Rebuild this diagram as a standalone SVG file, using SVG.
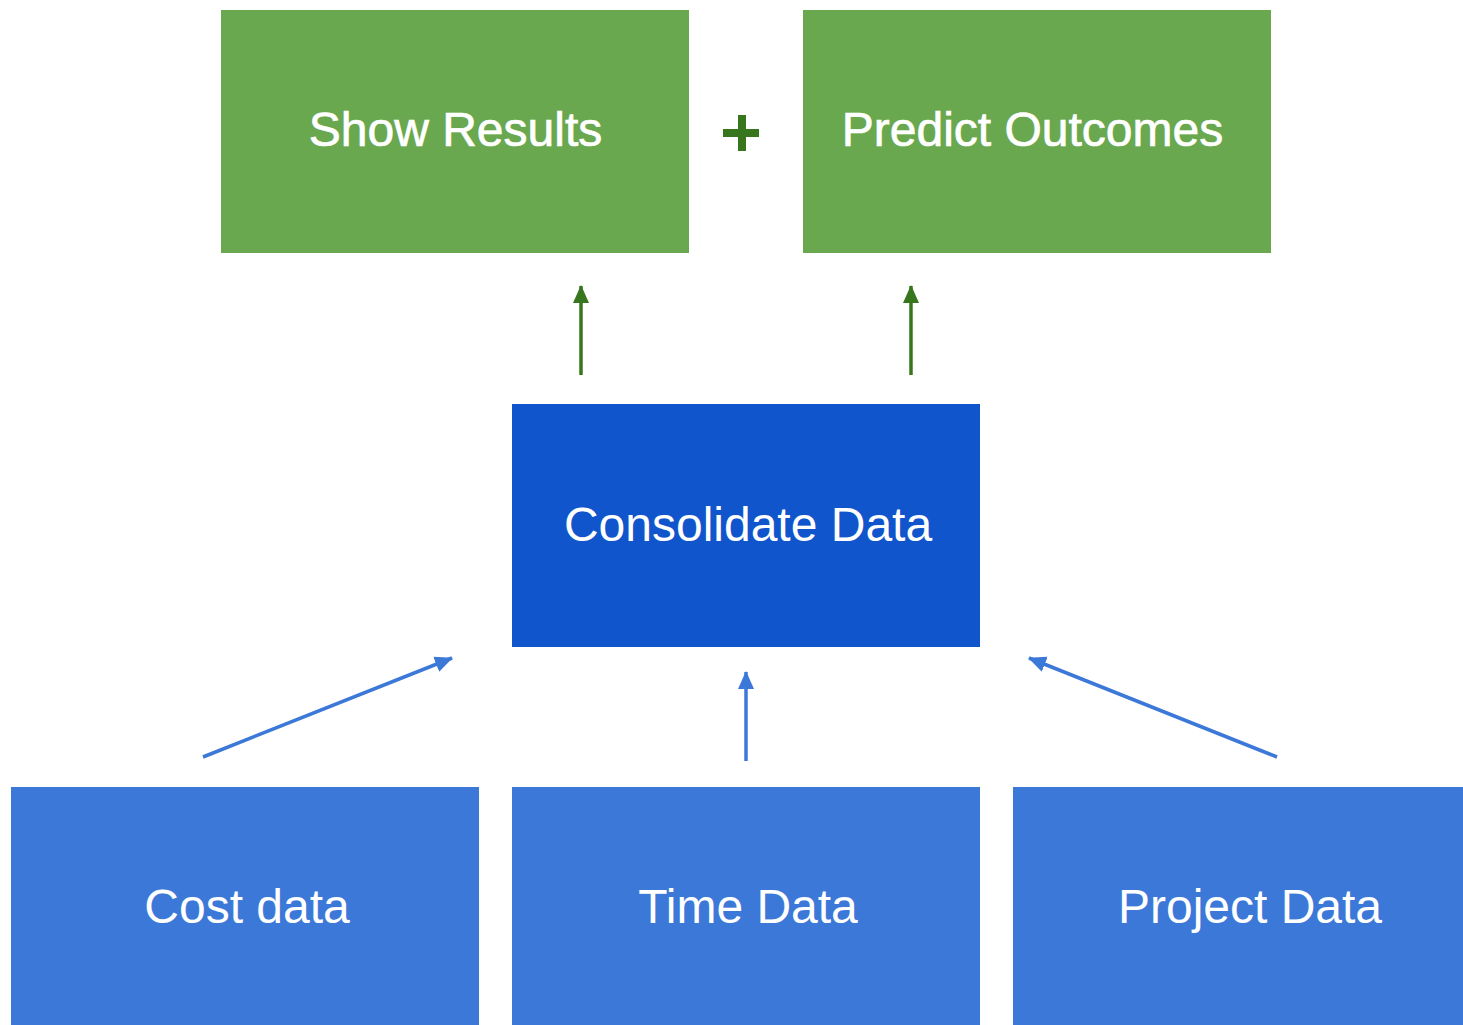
<svg xmlns="http://www.w3.org/2000/svg" width="1463" height="1025" viewBox="0 0 1463 1025">
  <style>
    .green { fill: #6aa84f; }
    .navy { fill: #1155cc; }
    .blue { fill: #3c78d8; }
    .label { font-family: "Liberation Sans", Arial, sans-serif; font-size: 48px; fill: #ffffff; text-anchor: middle; }
    .heavy { stroke: #ffffff; stroke-width: 0.7; }
    .up-green { stroke: #38761d; stroke-width: 3.5; fill: none; }
    .up-blue { stroke: #3c78d8; stroke-width: 3.5; fill: none; }
  </style>
  <defs>
    <marker id="headGreen" markerUnits="userSpaceOnUse" markerWidth="18" markerHeight="18" viewBox="0 0 18 18" refX="17" refY="9" orient="auto">
      <path d="M0,1 L18,9 L0,17 Z" fill="#38761d"/>
    </marker>
    <marker id="headBlue" markerUnits="userSpaceOnUse" markerWidth="18" markerHeight="18" viewBox="0 0 18 18" refX="17" refY="9" orient="auto">
      <path d="M0,1 L18,9 L0,17 Z" fill="#3c78d8"/>
    </marker>
  </defs>

  <rect width="1463" height="1025" fill="#ffffff"/>

  <g id="show-results">
    <rect class="green" x="221" y="10" width="468" height="243"/>
    <text class="label heavy" x="455.5" y="146">Show Results</text>
  </g>

  <g id="plus">
    <rect x="738" y="115" width="8" height="36" fill="#38761d"/>
    <rect x="723" y="129" width="36" height="8" fill="#38761d"/>
  </g>

  <g id="predict-outcomes">
    <rect class="green" x="803" y="10" width="468" height="243"/>
    <text class="label heavy" x="1032.5" y="146">Predict Outcomes</text>
  </g>

  <g id="consolidate-data">
    <rect class="navy" x="512" y="404" width="468" height="243"/>
    <text class="label" x="748" y="541">Consolidate Data</text>
  </g>

  <g id="cost-data">
    <rect class="blue" x="11" y="787" width="468" height="243"/>
    <text class="label" x="247" y="923">Cost data</text>
  </g>

  <g id="time-data">
    <rect class="blue" x="512" y="787" width="468" height="243"/>
    <text class="label" x="748" y="923">Time Data</text>
  </g>

  <g id="project-data">
    <rect class="blue" x="1013" y="787" width="468" height="243"/>
    <text class="label" x="1250" y="923">Project Data</text>
  </g>

  <g id="connectors">
    <line class="up-green" x1="581" y1="375" x2="581" y2="286" marker-end="url(#headGreen)"/>
    <line class="up-green" x1="911" y1="375" x2="911" y2="286" marker-end="url(#headGreen)"/>
    <line class="up-blue" x1="203" y1="757" x2="452" y2="658" marker-end="url(#headBlue)"/>
    <line class="up-blue" x1="746" y1="761" x2="746" y2="672" marker-end="url(#headBlue)"/>
    <line class="up-blue" x1="1277" y1="757" x2="1029" y2="658" marker-end="url(#headBlue)"/>
  </g>
</svg>
